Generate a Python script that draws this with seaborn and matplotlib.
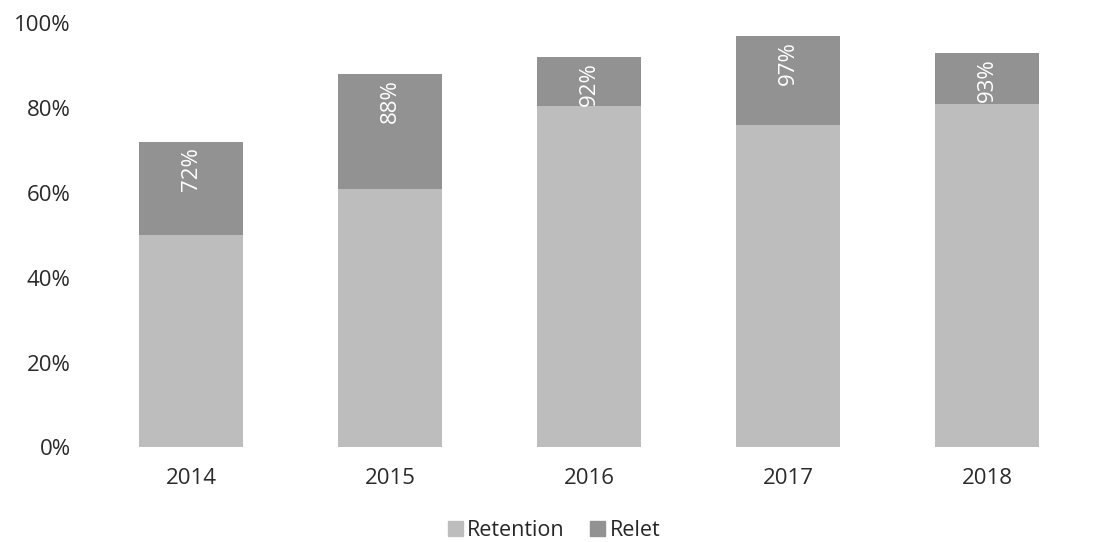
import matplotlib
matplotlib.use("Agg")
import matplotlib.pyplot as plt
import matplotlib.patches as mpatches
import seaborn as sns
import pandas as pd
from matplotlib.ticker import PercentFormatter

years = ["2014", "2015", "2016", "2017", "2018"]
retention = [0.50, 0.61, 0.805, 0.76, 0.81]
total = [0.72, 0.88, 0.92, 0.97, 0.93]
relet = [t - r for t, r in zip(total, retention)]

retention_color = "#bdbdbd"
relet_color = "#929292"

sns.set_theme(style="white")
plt.rcParams["font.family"] = ["Open Sans", "DejaVu Sans"]

df = pd.DataFrame({"year": years, "Retention": retention, "Relet": relet, "total": total})

fig = plt.figure(figsize=(11.08, 5.42), dpi=100)
ax = fig.add_axes([0.0826, 0.1744, 0.898, 0.7832])

# stacked: full height in relet colour, retention drawn over its lower part
sns.barplot(data=df, x="year", y="total", color=relet_color, width=0.52,
            saturation=1, linewidth=0, ax=ax)
sns.barplot(data=df, x="year", y="Retention", color=retention_color, width=0.52,
            saturation=1, linewidth=0, ax=ax)

for i, t in enumerate(total):
    ax.text(i, t - 0.012, f"{round(t * 100):.0f}%", rotation=90, ha="center",
            va="top", color="white", fontsize=16)

ax.set_ylim(0, 1)
ax.set_xlim(-0.5, 4.5)
ax.yaxis.set_major_formatter(PercentFormatter(1.0, decimals=0))
ax.set_yticks([0, 0.2, 0.4, 0.6, 0.8, 1.0])
ax.set_xlabel("")
ax.set_ylabel("")
ax.tick_params(axis="both", length=0, labelsize=16, colors="#2a2a2a")
ax.tick_params(axis="y", pad=15)
ax.tick_params(axis="x", pad=15)
sns.despine(ax=ax, left=True, bottom=True)

handles = [mpatches.Patch(color=retention_color, label="Retention"),
           mpatches.Patch(color=relet_color, label="Relet")]
fig.legend(handles=handles, loc="center", bbox_to_anchor=(0.5, 0.022),
           ncol=2, frameon=False, fontsize=15.5, handlelength=0.7,
           handleheight=0.7, handletextpad=0.2, columnspacing=1.2)

fig.savefig("out.png", dpi=100)
